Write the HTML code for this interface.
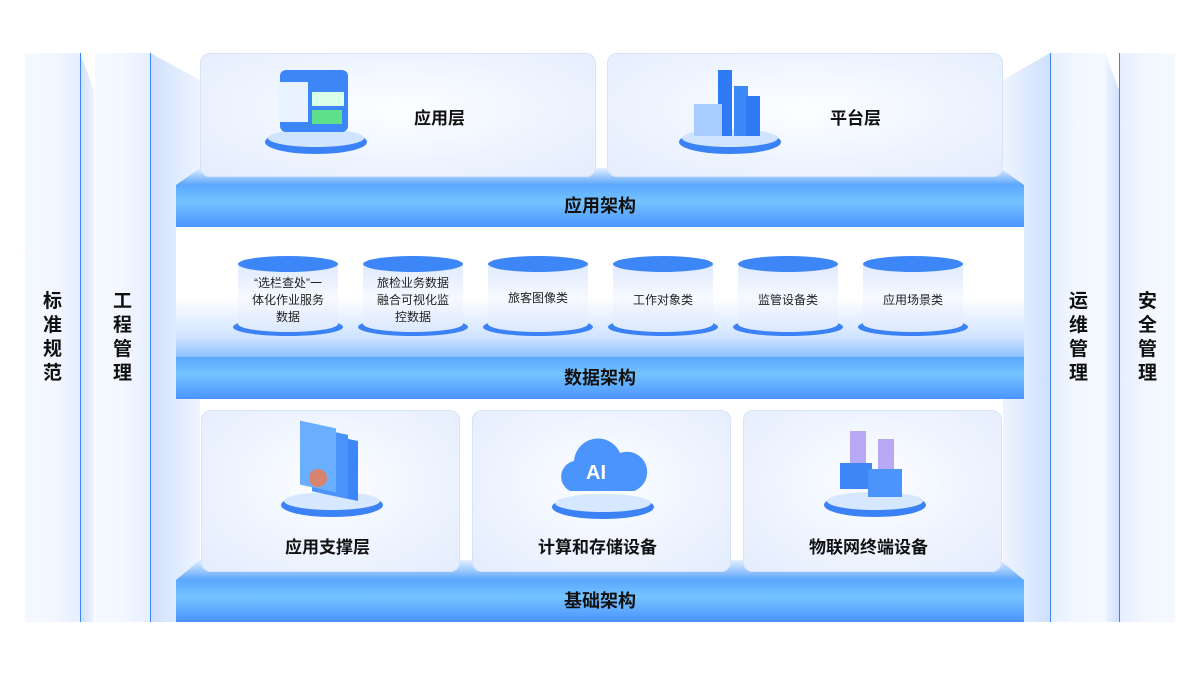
<!DOCTYPE html>
<html><head><meta charset="utf-8"><style>
body{margin:0;width:1200px;height:675px;background:#fff;overflow:hidden;position:relative;font-family:"Liberation Sans","Noto Sans CJK SC",sans-serif}
.a{position:absolute}
.col{position:absolute;top:53px;height:569px;width:55px;background:linear-gradient(90deg,#f5f8ff,#f3f7ff 50%,#e6efff);}
.vt{position:absolute;width:55px;text-align:center;font-size:19px;font-weight:bold;color:#111;line-height:24px}
.band{position:absolute;left:176px;width:848px;height:42px;background:linear-gradient(180deg,#5aa8ff,#74c3ff 40%,#4b93ff);text-align:center;color:#111;font-weight:bold;font-size:18px;line-height:42px}
.panel{position:absolute;border-radius:10px;background:radial-gradient(ellipse at 50% 45%,#fdfeff 0%,#eef4ff 55%,#e4edfc 100%);box-shadow:0 0 0 1px #d6e4fb inset}
.lbl{position:absolute;font-size:17px;font-weight:bold;color:#111}
.cyl{position:absolute;width:100px;height:80px}
.ct{position:absolute;width:100px;top:20px;height:56px;display:flex;align-items:center;justify-content:center;text-align:center;font-size:12px;line-height:17px;color:#222}
</style></head><body>
<svg class="a" style="left:0;top:0" width="1200" height="675">
<defs>
<linearGradient id="w" x1="0" x2="1"><stop offset="0" stop-color="#cfe0fd"/><stop offset="1" stop-color="#eef4ff"/></linearGradient>
<linearGradient id="wr" x1="1" x2="0"><stop offset="0" stop-color="#cfe0fd"/><stop offset="1" stop-color="#eef4ff"/></linearGradient>
<linearGradient id="top" x1="0" y1="0" x2="0" y2="1"><stop offset="0" stop-color="#e3efff"/><stop offset="1" stop-color="#5aa5fb"/></linearGradient>
<linearGradient id="cy" x1="0" y1="0" x2="0" y2="1"><stop offset="0" stop-color="#dce9fd"/><stop offset=".5" stop-color="#f4f8ff"/><stop offset="1" stop-color="#dbe8fd"/></linearGradient>
</defs>
<polygon points="80,53 94,90 94,622 80,622" fill="url(#w)"/>
<polygon points="150,53 200,80 200,622 150,622" fill="url(#w)"/>
<polygon points="1105,53 1119,90 1119,622 1105,622" fill="url(#wr)"/>
<polygon points="1050,53 1003,80 1003,622 1050,622" fill="url(#wr)"/>
<polygon points="200,168 1000,168 1024,185 176,185" fill="url(#top)"/>
<polygon points="220,322 980,322 1024,357 176,357" fill="#8fc0fb" opacity=".7"/>
<polygon points="200,560 1000,560 1024,580 176,580" fill="url(#top)"/>
<line x1="80.5" y1="53" x2="80.5" y2="622" stroke="#3d84f5"/>
<line x1="150.5" y1="53" x2="150.5" y2="622" stroke="#3d84f5"/>
<line x1="1050.5" y1="53" x2="1050.5" y2="622" stroke="#3d84f5"/>
<line x1="1119.5" y1="53" x2="1119.5" y2="622" stroke="#3d84f5"/>
</svg>
<div class="col" style="left:25px"></div><div class="col" style="left:95px"></div>
<div class="col" style="left:1051px;background:linear-gradient(90deg,#e6efff,#f3f7ff 50%,#f5f8ff)"></div>
<div class="col" style="left:1120px;background:linear-gradient(90deg,#e6efff,#f3f7ff 50%,#f5f8ff)"></div>
<div class="vt" style="left:25px;top:290px">标<br>准<br>规<br>范</div>
<div class="vt" style="left:95px;top:290px">工<br>程<br>管<br>理</div>
<div class="vt" style="left:1051px;top:290px">运<br>维<br>管<br>理</div>
<div class="vt" style="left:1120px;top:290px">安<br>全<br>管<br>理</div>

<div class="panel" style="left:200px;top:53px;width:396px;height:124px"></div>
<div class="panel" style="left:607px;top:53px;width:396px;height:124px"></div>
<div class="lbl" style="left:414px;top:104px">应用层</div>
<div class="lbl" style="left:830px;top:104px">平台层</div>
<!-- icons top -->
<svg class="a" style="left:260px;top:64px" width="115" height="95"><ellipse cx="56" cy="78" rx="51" ry="12" fill="#3b82f6"/><ellipse cx="56" cy="74" rx="48" ry="9" fill="#cfe4ff"/><rect x="20" y="6" width="68" height="62" rx="6" fill="#3d86f7"/><rect x="18" y="18" width="30" height="40" fill="#e9f2ff"/><rect x="52" y="28" width="32" height="14" fill="#d8ffe8"/><rect x="52" y="46" width="30" height="14" fill="#5ee08a"/></svg>
<svg class="a" style="left:674px;top:64px" width="115" height="95"><ellipse cx="56" cy="78" rx="51" ry="12" fill="#3b82f6"/><ellipse cx="56" cy="74" rx="48" ry="9" fill="#cfe4ff"/><rect x="44" y="6" width="14" height="66" fill="#2f7bf6"/><rect x="60" y="22" width="14" height="50" fill="#3b8af8"/><rect x="72" y="32" width="14" height="40" fill="#2f7bf6"/><rect x="20" y="40" width="28" height="32" fill="#a8ccff"/></svg>
<div class="band" style="top:185px">应用架构</div>

<div class="a" style="left:176px;top:227px;width:848px;height:130px;background:linear-gradient(180deg,#fff 0%,#fff 55%,#cfe3ff 85%,#8cc0ff 100%)"></div>
<div class="band" style="top:357px">数据架构</div>

<div id="cyls"></div>
<svg class="a" style="left:0;top:0" width="1200" height="675">
<g id="c"></g>
</svg>
<!-- cylinders -->
<div class="a" style="left:0;top:0">
<svg class="a" style="left:232px;top:252px" width="740" height="90">
<g fill="none">
<g transform="translate(0,0)"><ellipse cx="56" cy="75" rx="55" ry="9" fill="#3b82f6"/><path d="M6,12 V72 A50,8 0 0 0 106,72 V12Z" fill="url(#cy2)"/><ellipse cx="56" cy="12" rx="50" ry="8" fill="#3d86f7"/></g>
<g transform="translate(125,0)"><ellipse cx="56" cy="75" rx="55" ry="9" fill="#3b82f6"/><path d="M6,12 V72 A50,8 0 0 0 106,72 V12Z" fill="url(#cy2)"/><ellipse cx="56" cy="12" rx="50" ry="8" fill="#3d86f7"/></g>
<g transform="translate(250,0)"><ellipse cx="56" cy="75" rx="55" ry="9" fill="#3b82f6"/><path d="M6,12 V72 A50,8 0 0 0 106,72 V12Z" fill="url(#cy2)"/><ellipse cx="56" cy="12" rx="50" ry="8" fill="#3d86f7"/></g>
<g transform="translate(375,0)"><ellipse cx="56" cy="75" rx="55" ry="9" fill="#3b82f6"/><path d="M6,12 V72 A50,8 0 0 0 106,72 V12Z" fill="url(#cy2)"/><ellipse cx="56" cy="12" rx="50" ry="8" fill="#3d86f7"/></g>
<g transform="translate(500,0)"><ellipse cx="56" cy="75" rx="55" ry="9" fill="#3b82f6"/><path d="M6,12 V72 A50,8 0 0 0 106,72 V12Z" fill="url(#cy2)"/><ellipse cx="56" cy="12" rx="50" ry="8" fill="#3d86f7"/></g>
<g transform="translate(625,0)"><ellipse cx="56" cy="75" rx="55" ry="9" fill="#3b82f6"/><path d="M6,12 V72 A50,8 0 0 0 106,72 V12Z" fill="url(#cy2)"/><ellipse cx="56" cy="12" rx="50" ry="8" fill="#3d86f7"/></g>
</g>
<defs><linearGradient id="cy2" x1="0" y1="0" x2="0" y2="1"><stop offset="0" stop-color="#dfeafd"/><stop offset=".5" stop-color="#f6f9ff"/><stop offset="1" stop-color="#dbe8fd"/></linearGradient></defs>
</svg>
</div>
<div class="ct" style="left:238px;top:272px">“选栏查处”一<br>体化作业服务<br>数据</div>
<div class="ct" style="left:363px;top:272px">旅检业务数据<br>融合可视化监<br>控数据</div>
<div class="ct" style="left:488px;top:270px">旅客图像类</div>
<div class="ct" style="left:613px;top:272px">工作对象类</div>
<div class="ct" style="left:738px;top:272px">监管设备类</div>
<div class="ct" style="left:863px;top:272px">应用场景类</div>

<div class="panel" style="left:201px;top:410px;width:259px;height:162px"></div>
<div class="panel" style="left:472px;top:410px;width:259px;height:162px"></div>
<div class="panel" style="left:743px;top:410px;width:259px;height:162px"></div>
<svg class="a" style="left:278px;top:420px" width="110" height="100"><ellipse cx="54" cy="85" rx="51" ry="12" fill="#3b82f6"/><ellipse cx="54" cy="81" rx="48" ry="9" fill="#d6e8ff"/><rect x="44" y="4" width="36" height="60" fill="#3d86f7" transform="skewY(12)"/><rect x="34" y="0" width="36" height="64" fill="#4a93fa" transform="skewY(12)"/><rect x="22" y="-4" width="36" height="64" fill="#6aaeff" transform="skewY(12)"/><circle cx="40" cy="58" r="9" fill="#d9826e"/></svg>
<svg class="a" style="left:548px;top:425px" width="110" height="100"><ellipse cx="55" cy="82" rx="51" ry="12" fill="#3b82f6"/><ellipse cx="55" cy="78" rx="48" ry="9" fill="#d6e8ff"/><path d="M22,66 a16,16 0 0 1 4,-30 a24,24 0 0 1 46,-8 a18,18 0 0 1 14,38z" fill="#4b94fb"/><text x="48" y="54" font-size="20" font-weight="bold" fill="#fff" text-anchor="middle" font-family="Liberation Sans">AI</text></svg>
<svg class="a" style="left:820px;top:425px" width="110" height="100"><ellipse cx="55" cy="80" rx="51" ry="12" fill="#3b82f6"/><ellipse cx="55" cy="76" rx="48" ry="9" fill="#d6e8ff"/><rect x="30" y="6" width="16" height="36" fill="#b9a8f5"/><rect x="58" y="14" width="16" height="36" fill="#b9a8f5"/><rect x="20" y="38" width="32" height="26" fill="#3d86f7"/><rect x="48" y="44" width="34" height="28" fill="#4b94fb"/></svg>
<div class="lbl" style="left:285px;top:533px">应用支撑层</div>
<div class="lbl" style="left:538px;top:533px">计算和存储设备</div>
<div class="lbl" style="left:809px;top:533px">物联网终端设备</div>
<div class="band" style="top:580px">基础架构</div>
</body></html>
